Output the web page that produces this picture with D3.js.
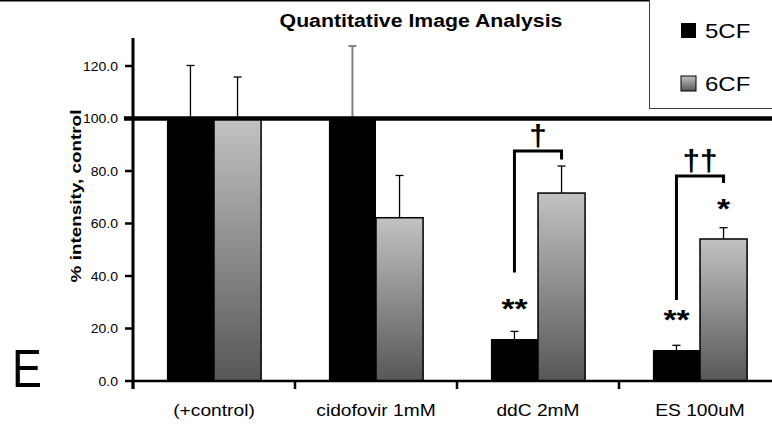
<!DOCTYPE html>
<html lang="en">
<head>
    <meta charset="UTF-8">
    <title>Quantitative Image Analysis</title>
<script src="https://d3js.org/d3.v7.min.js"></script>
    <style>
        body{
            margin: 0;
            background: #fff;
        }
        text{
            font-family: "Liberation Sans", Arial, sans-serif;
            fill: #000;
        }
    </style>
</head>
<body>
<svg width="772" height="425" id="canvas"></svg>
<script>

    // the values
    const categories = ["(+control)", "cidofovir 1mM", "ddC 2mM", "ES 100uM"];
    const series = ["5CF", "6CF"];
    const means5CF = [100, 100, 16.0, 11.8];
    const means6CF = [100, 62.2, 71.6, 54.1];
    const err5CF = [20.2, 27.6, 2.9, 1.8];
    const err6CF = [15.8, 16.1, 10.3, 4.3];
    const yTicks = [0, 20, 40, 60, 80, 100, 120];

    // significance marks: stars above bars, brackets with daggers
    const starMarks = [
        {cat: "ddC 2mM", s: "5CF", text: "**", at: 24.0},
        {cat: "ES 100uM", s: "5CF", text: "**", at: 19.8},
        {cat: "ES 100uM", s: "6CF", text: "*", at: 62.2}
    ];
    const brackets = [
        {cat: "ddC 2mM", top: 87.6, leftEnd: 41.3, rightEnd: 84.4, text: "\u2020"},
        {cat: "ES 100uM", top: 78.1, leftEnd: 30.9, rightEnd: 75.4, text: "\u2020\u2020"}
    ];

    // the original picture is a bit wider than tall, so text is stretched sideways
    const SX = 1.2;

    let svg = d3.select("svg");

    // gray bar gradient (per bar)
    let defs = svg.append("defs");
    let grad = defs.append("linearGradient").attr("id", "grayFill")
        .attr("x1", 0).attr("y1", 0).attr("x2", 0).attr("y2", 1);
    grad.append("stop").attr("offset", "0%").attr("stop-color", "#c2c2c2");
    grad.append("stop").attr("offset", "100%").attr("stop-color", "#575757");

    const fills = {"5CF": "#000", "6CF": "url(#grayFill)"};

    // scales
    let xScale = d3.scaleBand().domain(categories).range([133, 781]).paddingInner(0).paddingOuter(0);
    let x1 = d3.scaleBand().domain(series).range([0, xScale.bandwidth()]).paddingInner(0).paddingOuter(0.72);
    let yScale = d3.scaleLinear().domain([0, 130]).range([381, 39.75]);

    let rows = [];
    categories.forEach(function (c, i) {
        rows.push({cat: c, s: "5CF", v: means5CF[i], e: err5CF[i]});
        rows.push({cat: c, s: "6CF", v: means6CF[i], e: err6CF[i]});
    });
    function cx(cat, s) { return xScale(cat) + x1(s) + x1.bandwidth() / 2; }

    // bars
    svg.append("g").selectAll("rect")
        .data(rows)
        .enter()
        .append("rect")
        .attr("x", d => xScale(d.cat) + x1(d.s))
        .attr("width", x1.bandwidth())
        .attr("y", d => yScale(d.v))
        .attr("height", d => yScale(0) - yScale(d.v))
        .attr("fill", d => fills[d.s])
        .attr("stroke", d => d.s === "6CF" ? "#000" : "none")
        .attr("stroke-width", 1.5);

    // error bars (one side, up)
    let eb = svg.append("g").selectAll("g")
        .data(rows)
        .enter()
        .append("g")
        .attr("stroke", (d, i) => i === 2 ? "#808080" : "#000")
        .attr("stroke-width", (d, i) => i === 2 ? 2 : 1.3);
    eb.append("line")
        .attr("x1", d => cx(d.cat, d.s)).attr("x2", d => cx(d.cat, d.s))
        .attr("y1", d => yScale(d.v)).attr("y2", d => yScale(d.v + d.e));
    eb.append("line")
        .attr("x1", d => cx(d.cat, d.s) - 4).attr("x2", d => cx(d.cat, d.s) + 4)
        .attr("y1", d => yScale(d.v + d.e)).attr("y2", d => yScale(d.v + d.e));

    // thick 100% line
    svg.append("line")
        .attr("x1", 124).attr("x2", 772)
        .attr("y1", yScale(100)).attr("y2", yScale(100))
        .attr("stroke", "#000").attr("stroke-width", 4.5);

    // y axis
    let yAxis = svg.append("g");
    yAxis.append("line").attr("x1", 133).attr("x2", 133).attr("y1", 38).attr("y2", 389)
        .attr("stroke", "#000").attr("stroke-width", 3);
    yAxis.selectAll(".tick").data(yTicks).enter().append("line")
        .attr("x1", 125).attr("x2", 133)
        .attr("y1", d => yScale(d)).attr("y2", d => yScale(d))
        .attr("stroke", "#000").attr("stroke-width", 2.5);
    yAxis.selectAll("text").data(yTicks).enter().append("text")
        .attr("transform", d => `translate(118,${yScale(d) + 4.5}) scale(1.12,1)`)
        .attr("text-anchor", "end")
        .style("font-size", "12.5px")
        .text(d => d.toFixed(1));

    // x axis
    let xAxis = svg.append("g");
    xAxis.append("line").attr("x1", 133).attr("x2", 772).attr("y1", 381).attr("y2", 381)
        .attr("stroke", "#000").attr("stroke-width", 2.5);
    xAxis.selectAll(".tick").data(categories).enter().append("line")
        .attr("x1", d => xScale(d)).attr("x2", d => xScale(d))
        .attr("y1", 381).attr("y2", 389)
        .attr("stroke", "#000").attr("stroke-width", 2.5);
    xAxis.selectAll("text").data(categories).enter().append("text")
        .attr("transform", d => `translate(${xScale(d) + xScale.bandwidth() / 2},416) scale(${SX},1)`)
        .attr("text-anchor", "middle")
        .style("font-size", "16px")
        .text(d => d);

    // brackets between 5CF and 6CF
    let br = svg.append("g").selectAll("g").data(brackets).enter().append("g");
    br.append("path")
        .attr("d", d => {
            let xl = cx(d.cat, "5CF"), xr = cx(d.cat, "6CF");
            return `M${xl},${yScale(d.leftEnd)}V${yScale(d.top)}H${xr}V${yScale(d.rightEnd)}`;
        })
        .attr("fill", "none").attr("stroke", "#000").attr("stroke-width", 3);
    br.append("text")
        .attr("transform", d => `translate(${(cx(d.cat, "5CF") + cx(d.cat, "6CF")) / 2},${yScale(d.top) - 5}) scale(1.05,1)`)
        .attr("text-anchor", "middle")
        .style("font-size", "30px").style("font-weight", "bold")
        .text(d => d.text);

    // stars
    svg.append("g").selectAll("text").data(starMarks).enter().append("text")
        .attr("transform", d => `translate(${cx(d.cat, d.s)},${yScale(d.at)}) scale(${SX},1)`)
        .attr("text-anchor", "middle")
        .style("font-size", "28px").style("font-weight", "bold")
        .text(d => d.text);

    // top frame line
    svg.append("line").attr("x1", 0).attr("x2", 772).attr("y1", 0.5).attr("y2", 0.5)
        .attr("stroke", "#000").attr("stroke-width", 2);

    // title
    svg.append("text")
        .attr("transform", `translate(421,27) scale(1.12,1)`)
        .attr("text-anchor", "middle")
        .style("font-size", "19px").style("font-weight", "bold")
        .text("Quantitative Image Analysis");

    // y label
    svg.append("text")
        .attr("transform", `translate(81,196) rotate(-90) scale(1.26,1)`)
        .attr("text-anchor", "middle")
        .style("font-size", "15px").style("font-weight", "bold")
        .text("% intensity, control");

    // panel letter
    svg.append("text")
        .attr("transform", "translate(12,387) scale(0.83,1)")
        .style("font-size", "54px")
        .text("E");

    // legend
    let legend = svg.append("g");
    legend.append("rect").attr("x", 649.5).attr("y", -2).attr("width", 130).attr("height", 110.5)
        .attr("fill", "#fff").attr("stroke", "#404040").attr("stroke-width", 1);
    let li = legend.selectAll(".item").data(series).enter().append("g")
        .attr("transform", (d, i) => `translate(681,${23 + i * 53})`);
    li.append("rect").attr("width", 15).attr("height", 15)
        .attr("fill", d => fills[d])
        .attr("stroke", d => d === "6CF" ? "#000" : "none").attr("stroke-width", 1);
    li.append("text")
        .attr("transform", `translate(24,14.5) scale(${SX},1)`)
        .style("font-size", "20px")
        .text(d => d);

</script>
</body>
</html>
